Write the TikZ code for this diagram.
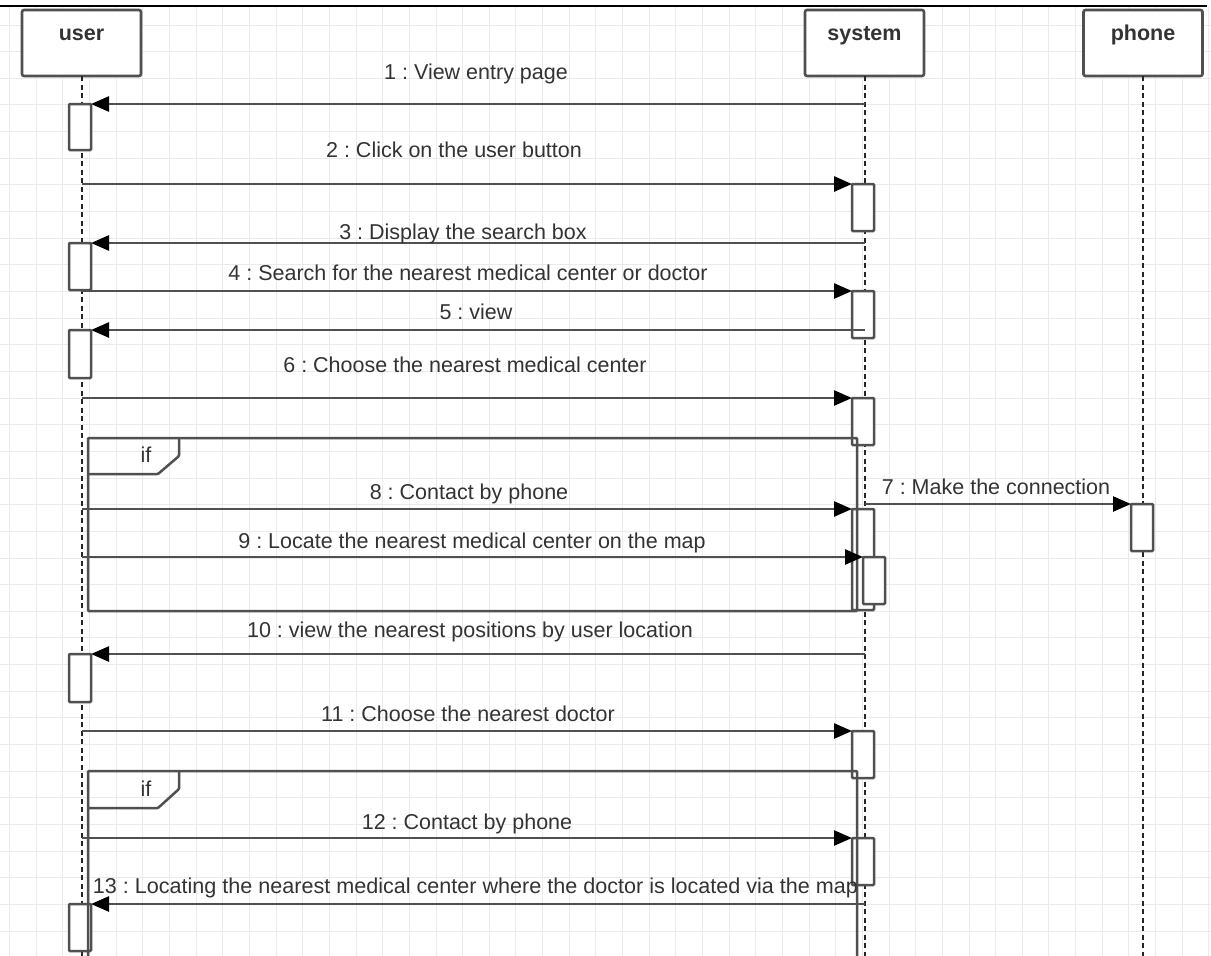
\documentclass[tikz,border=0pt]{standalone}
\usepackage{fontspec}
\setmainfont{Liberation Sans}
\usepackage{graphicx}
\usetikzlibrary{arrows.meta}
\definecolor{ink}{HTML}{505050}
\definecolor{txt}{HTML}{333333}
\definecolor{gridc}{HTML}{EAEAEA}
\frenchspacing

\tikzset{
  lbl/.style={anchor=base, inner sep=0pt, text=txt, font=\fontsize{21.5}{24}\selectfont},
  headbox/.style={draw=ink, line width=2.6pt, fill=white, rounded corners=2pt,
    minimum width=119pt, minimum height=66pt, anchor=north west, inner sep=0pt, outer sep=0pt},
  headtxt/.style={anchor=base, inner sep=0pt, text=txt, font=\fontsize{21.5}{24}\selectfont\bfseries},
  lifeline/.style={line width=2pt, dash pattern=on 5pt off 3.5pt, black!85},
  actbox/.style={draw=ink, line width=2.5pt, fill=white, rounded corners=1pt,
    minimum width=22pt, anchor=north west, inner sep=0pt, outer sep=0pt},
  msg/.style={draw=ink, line width=2.5pt, -{Triangle[length=18pt,width=15pt,color=black]}},
  fragment/.style={draw=ink, line width=2.5pt, rounded corners=1pt},
}

\begin{document}
\begin{tikzpicture}[x=1pt, y=-1pt]
\useasboundingbox (0,0) rectangle (1211,956);
\fill[white] (0,0) rectangle (1211,956);

% background grid
\foreach \k in {0,...,45} \draw[gridc, line width=1pt] ({9.6+26.65*\k},6) -- ({9.6+26.65*\k},956);
\foreach \k in {0,...,34} \draw[gridc, line width=1pt] (0,{25+26.65*\k}) -- (1211,{25+26.65*\k});
\draw[black, line width=1.8pt] (0,6) -- (1207,6);

% participants
\node[headbox] (user) at (22,10) {};
\node[headbox] (system) at (805,10) {};
\node[headbox] (phone) at (1083.5,10) {};
\node[headtxt] (userT) at (user.north |- 0,40) {user};
\node[headtxt] (systemT) at (system.north |- 0,40) {system};
\node[headtxt] (phoneT) at (phone.north |- 0,40) {phone};

% lifelines
\coordinate (userEnd) at (user.south |- 0,956);
\coordinate (systemEnd) at (system.south |- 0,956);
\coordinate (phoneEnd) at (phone.south |- 0,956);
\draw[lifeline] (user.south) -- (userEnd);
\draw[lifeline] (system.south) -- (systemEnd);
\draw[lifeline] (phone.south) -- (phoneEnd);

% activation bars
\node[actbox, minimum height=46pt] (ua1) at (69,104) {};
\node[actbox, minimum height=47pt] (ua2) at (69,243) {};
\node[actbox, minimum height=48pt] (ua3) at (69,330) {};
\node[actbox, minimum height=48pt] (ua4) at (69,654) {};
\node[actbox, minimum height=47pt] (ua5) at (69,904) {};
\node[actbox, minimum height=47pt] (sa1) at (852,184) {};
\node[actbox, minimum height=47pt] (sa2) at (852,291) {};
\node[actbox, minimum height=47pt] (sa3) at (852,398) {};
\node[actbox, minimum height=101pt] (sa4) at (852,509) {};
\node[actbox, minimum height=47pt] (sa6) at (852,731) {};
\node[actbox, minimum height=47pt] (sa7) at (852,838) {};
\node[actbox, minimum height=47pt] (pa1) at (1131,504) {};

% combined fragments
\draw[fragment] (88,438) rectangle (857,611);
\draw[fragment] (88,474) -- (158,474) -- (179,456) -- (179,438);
\node[lbl] (if1) at (146,462) {if};
\draw[fragment] (88,960) -- (88,771) -- (857,771) -- (857,960);
\draw[fragment] (88,808) -- (158,808) -- (179,789) -- (179,771);
\node[lbl] (if2) at (146,796) {if};

% nested activation
\node[actbox, minimum height=47pt] (sa5) at (863,557) {};

% lifeline points where messages leave
\coordinate (s1) at (system.south |- 0,104);
\coordinate (u2) at (user.south |- 0,184);
\coordinate (s3) at (system.south |- 0,243);
\coordinate (u4) at (user.south |- 0,291);
\coordinate (s5) at (system.south |- 0,330);
\coordinate (u6) at (user.south |- 0,398);
\coordinate (s7) at (system.south |- 0,504);
\coordinate (u8) at (user.south |- 0,509);
\coordinate (u9) at (user.south |- 0,557);
\coordinate (s10) at (system.south |- 0,654);
\coordinate (u11) at (user.south |- 0,731);
\coordinate (u12) at (user.south |- 0,838);
\coordinate (s13) at (system.south |- 0,904);

% messages
\draw[msg] (s1) -- (ua1.north east);
\draw[msg] (u2) -- (sa1.north west);
\draw[msg] (s3) -- (ua2.north east);
\draw[msg] (u4) -- (sa2.north west);
\draw[msg] (s5) -- (ua3.north east);
\draw[msg] (u6) -- (sa3.north west);
\draw[msg] (s7) -- (pa1.north west);
\draw[msg] (u8) -- (sa4.north west);
\draw[msg] (u9) -- (sa5.north west);
\draw[msg] (s10) -- (ua4.north east);
\draw[msg] (u11) -- (sa6.north west);
\draw[msg] (u12) -- (sa7.north west);
\draw[msg] (s13) -- (ua5.north east);

% message labels
\node[lbl] (m1) at (476,79) {1 : View entry page};
\node[lbl] (m2) at (454,157) {2 : Click on the user button};
\node[lbl] (m3) at (463,239) {3 : Display the search box};
\node[lbl] (m4) at (468,280) {4 : Search for the nearest medical center or doctor};
\node[lbl] (m5) at (476,319) {5 : view};
\node[lbl] (m6) at (465,372) {6 : Choose the nearest medical center};
\node[lbl] (m7) at (996,494) {7 : Make the connection};
\node[lbl] (m8) at (469,499) {8 : Contact by phone};
\node[lbl] (m9) at (472,548) {9 : Locate the nearest medical center on the map};
\node[lbl] (m10) at (470,637) {10 : view the nearest positions by user location};
\node[lbl] (m11) at (468,721) {11 : Choose the nearest doctor};
\node[lbl] (m12) at (467,829) {12 : Contact by phone};
\node[lbl] (m13) at (475.5,893) {\resizebox{765pt}{\height}{13 : Locating the nearest medical center where the doctor is located via the map}};
\end{tikzpicture}
\end{document}
